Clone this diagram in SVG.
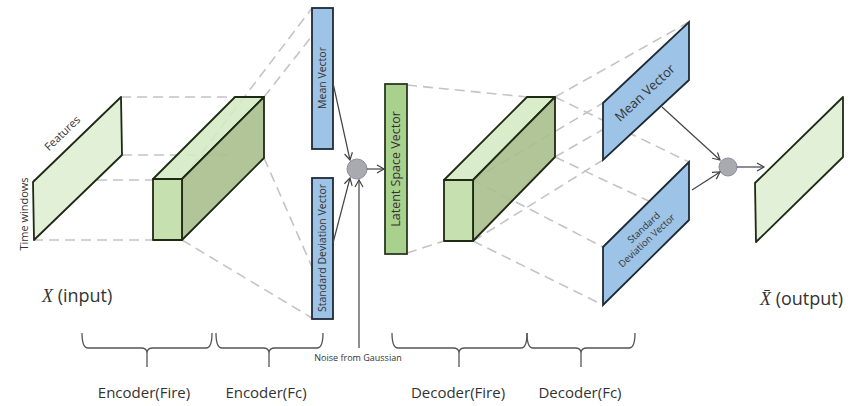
<svg xmlns="http://www.w3.org/2000/svg" width="848" height="406" viewBox="0 0 848 406">
<defs>
<marker id="arr" markerWidth="10" markerHeight="10" refX="8" refY="5" orient="auto" markerUnits="userSpaceOnUse">
<path d="M1,1 L8,5 L1,9" fill="none" stroke="#444" stroke-width="1.2"/>
</marker>
<style>
.dash{stroke:#c4c4c4;stroke-width:1.6;stroke-dasharray:10 6;fill:none}
.edge{stroke:#1e2a14;stroke-width:1.8;stroke-linejoin:round}
.pale{fill:#e3f0d8}
.front{fill:#c6e0b0}
.top{fill:#d5eac4;fill-opacity:0.88}
.side{fill:#a8bf8e;fill-opacity:0.9}
.blue{fill:#9dc3e6;stroke:#1f2a36;stroke-width:1.8}
.green{fill:#a9d18e;stroke:#2a3a20;stroke-width:1.8}
.conn{stroke:#444;stroke-width:1.2;fill:none}
.dot{fill:#a9a9b0;stroke:#8c8ca0;stroke-width:1}
.t{font-family:"Open Sans","Noto Sans",sans-serif;fill:#333}
.br{stroke:#555;stroke-width:1.3;fill:none}
</style>
</defs>

<g id="connectors-dashed">
<line class="dash" x1="121" y1="97" x2="235" y2="97"/>
<line class="dash" x1="122" y1="155" x2="235" y2="155"/>
<line class="dash" x1="33" y1="180" x2="153" y2="180"/>
<line class="dash" x1="33" y1="240" x2="153" y2="240"/>
<line class="dash" x1="182" y1="179" x2="312" y2="8"/>
<line class="dash" x1="264" y1="97" x2="312" y2="36"/>
<line class="dash" x1="264" y1="158" x2="312" y2="267"/>
<line class="dash" x1="182" y1="240" x2="312" y2="318"/>
<line class="dash" x1="407" y1="85" x2="527" y2="97"/>
<line class="dash" x1="407" y1="253" x2="444" y2="241"/>
<line class="dash" x1="473" y1="180" x2="603" y2="103"/>
<line class="dash" x1="555" y1="97" x2="689" y2="22"/>
<line class="dash" x1="473" y1="241" x2="603" y2="160"/>
<line class="dash" x1="555" y1="157" x2="689" y2="80"/>
<line class="dash" x1="473" y1="180" x2="603" y2="247"/>
<line class="dash" x1="555" y1="97" x2="689" y2="162"/>
<line class="dash" x1="473" y1="241" x2="603" y2="305"/>
<line class="dash" x1="555" y1="157" x2="689" y2="220"/>
</g>

<g id="input">
<polygon class="pale edge" points="33,182 121,97 122,155 34,240"/>
<text class="t" font-size="11" transform="translate(65,136) rotate(-44)" text-anchor="middle">Features</text>
<text class="t" font-size="11" transform="translate(28,214) rotate(-90)" text-anchor="middle">Time windows</text>
<text x="42" y="302" font-size="18" fill="#333"><tspan font-family="Liberation Serif,serif" font-style="italic">X</tspan><tspan font-family="Open Sans,sans-serif"> (input)</tspan></text>
</g>

<g id="encoder-fire">
<polygon class="top edge" points="153,179 235,97 264,97 182,179"/>
<polygon class="side edge" points="182,179 264,97 264,158 182,240"/>
<rect class="front edge" x="153" y="179" width="29" height="61"/>
</g>

<g id="mean-vector-enc">
<rect class="blue" x="312" y="8" width="21" height="141"/>
<text class="t" font-size="10.5" transform="translate(326,78) rotate(-90)" text-anchor="middle">Mean Vector</text>
</g>

<g id="std-vector-enc">
<rect class="blue" x="312" y="178" width="21" height="141"/>
<text class="t" font-size="10.5" transform="translate(326,248) rotate(-90)" text-anchor="middle">Standard Deviation Vector</text>
</g>

<g id="latent">
<rect class="green" x="385" y="84" width="22" height="170"/>
<text class="t" font-size="12.5" transform="translate(400,169) rotate(-90)" text-anchor="middle">Latent Space Vector</text>
</g>

<g id="decoder-fire">
<polygon class="top edge" points="444,180 527,97 555,97 473,180"/>
<polygon class="side edge" points="473,180 555,97 555,157 473,241"/>
<rect class="front edge" x="444" y="180" width="29" height="61"/>
</g>

<g id="mean-vector-dec">
<polygon class="blue" points="603,103 689,22 689,80 603,160"/>
<text class="t" font-size="13" transform="translate(648,96) rotate(-43)" text-anchor="middle">Mean Vector</text>
</g>

<g id="std-vector-dec">
<polygon class="blue" points="603,247 689,162 689,220 603,305"/>
<text class="t" font-size="9.5" transform="translate(646,230) rotate(-43)" text-anchor="middle">Standard</text>
<text class="t" font-size="9.5" transform="translate(649,243) rotate(-43)" text-anchor="middle">Deviation Vector</text>
</g>

<g id="output">
<polygon class="pale edge" points="755,183 843,97 843,157 756,242"/>
<text x="760" y="305" font-size="18" fill="#333"><tspan font-family="Liberation Serif,serif" font-style="italic">X̄</tspan><tspan font-family="Open Sans,sans-serif"> (output)</tspan></text>
</g>

<g id="sum1"><circle class="dot" cx="357" cy="169" r="10"/></g>
<g id="sum2"><circle class="dot" cx="728" cy="167" r="9"/></g>

<g id="connectors">
<line class="conn" x1="333" y1="83" x2="350" y2="160" marker-end="url(#arr)"/>
<line class="conn" x1="333" y1="243" x2="350" y2="178" marker-end="url(#arr)"/>
<line class="conn" x1="359" y1="348" x2="359" y2="180" marker-end="url(#arr)"/>
<line class="conn" x1="367" y1="169" x2="384" y2="169" marker-end="url(#arr)"/>
<line class="conn" x1="662" y1="107" x2="720" y2="160" marker-end="url(#arr)"/>
<line class="conn" x1="692" y1="190" x2="720" y2="172" marker-end="url(#arr)"/>
<line class="conn" x1="737" y1="167" x2="764" y2="167" marker-end="url(#arr)"/>
</g>

<g id="noise-label">
<text class="t" font-size="9" x="358" y="361" text-anchor="middle" fill="#555">Noise from Gaussian</text>
</g>

<g id="brackets">
<path class="br" d="M82,333 Q82,348 88,348 L141,348 Q147,348 147,353 L147,367 M147,353 Q147,348 153,348 L206,348 Q212,348 212,333"/>
<path class="br" d="M216,333 Q216,348 222,348 L263,348 Q269,348 269,353 L269,367 M269,353 Q269,348 275,348 L317,348 Q323,348 323,333"/>
<path class="br" d="M392,333 Q392,348 398,348 L453,348 Q459,348 459,353 L459,367 M459,353 Q459,348 465,348 L521,348 Q527,348 527,333"/>
<path class="br" d="M527,333 Q527,348 533,348 L575,348 Q581,348 581,353 L581,367 M581,353 Q581,348 587,348 L629,348 Q635,348 635,333"/>
<text class="t" font-size="15" x="144" y="398" text-anchor="middle">Encoder(Fire)</text>
<text class="t" font-size="15" x="266" y="398" text-anchor="middle">Encoder(Fc)</text>
<text class="t" font-size="15" x="458" y="398" text-anchor="middle">Decoder(Fire)</text>
<text class="t" font-size="15" x="580" y="398" text-anchor="middle">Decoder(Fc)</text>
</g>
</svg>
